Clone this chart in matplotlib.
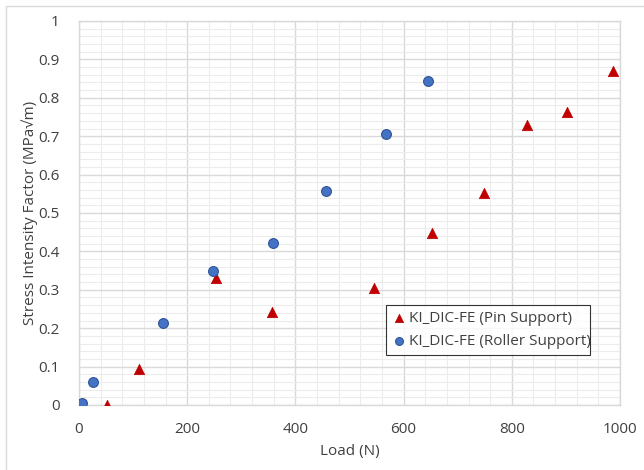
import matplotlib
matplotlib.use("Agg")
import matplotlib.pyplot as plt
from matplotlib.ticker import MultipleLocator
from matplotlib.patches import Rectangle

plt.rcParams["font.family"] = ["Open Sans", "DejaVu Sans"]

# ---- data -------------------------------------------------------------------
pin_load = [52, 110, 254, 356, 545, 652, 748, 828, 902, 987]
pin_k    = [0.0, 0.093, 0.332, 0.241, 0.305, 0.449, 0.553, 0.730, 0.762, 0.870]

roller_load = [5, 25, 155, 248, 358, 457, 568, 645]
roller_k    = [0.005, 0.060, 0.213, 0.348, 0.422, 0.557, 0.705, 0.845]

INK = "#404040"
GRID_MAJ = "#d9d9d9"
GRID_MIN = "#ececec"

fig = plt.figure(figsize=(6.44, 4.70), dpi=100)
fig.patch.set_facecolor("white")
ax = fig.add_axes([79 / 644, 1 - 405 / 470, (620 - 79) / 644, (405 - 21) / 470])

# outer chart-area frame
fig.add_artist(Rectangle((6 / 644, -0.02), 1.02, 1 - 6 / 470 + 0.02,
                         transform=fig.transFigure, fill=False,
                         edgecolor="#d9d9d9", lw=1.0))

ax.scatter(pin_load, pin_k, marker="^", s=56, color="#c00000",
           edgecolor="#c00000", linewidth=0.5, zorder=3,
           label="KI_DIC-FE (Pin Support)")
ax.scatter(roller_load, roller_k, marker="o", s=50, color="#4472c4",
           edgecolor="#2f5597", linewidth=0.8, zorder=3,
           label="KI_DIC-FE (Roller Support)")

ax.set_xlim(0, 1000)
ax.set_ylim(0, 1)
ax.xaxis.set_major_locator(MultipleLocator(200))
ax.xaxis.set_minor_locator(MultipleLocator(40))
ax.yaxis.set_major_locator(MultipleLocator(0.1))
ax.yaxis.set_minor_locator(MultipleLocator(0.02))
ax.set_yticks([i / 10 for i in range(11)])
ax.set_yticklabels(["0"] + [f"{i / 10:g}" for i in range(1, 10)] + ["1"])

ax.grid(which="major", color=GRID_MAJ, lw=1.0, zorder=0)
ax.grid(which="minor", color=GRID_MIN, lw=0.8, zorder=0)
ax.set_axisbelow(True)
ax.tick_params(which="both", length=0, labelsize=11, colors=INK)
ax.tick_params(axis="x", pad=12)
ax.tick_params(axis="y", pad=14)

for s in ax.spines.values():
    s.set_color(GRID_MAJ)
    s.set_linewidth(1.0)

ax.set_xlabel("Load (N)", fontsize=11, color=INK, labelpad=5)
ax.set_ylabel("Stress Intensity Factor (MPa\u221am)", fontsize=11, color=INK,
              labelpad=0)

leg = ax.legend(loc="lower left", bbox_to_anchor=(0.567, 0.13, 0.377, 0.14),
                mode="expand", fontsize=11, frameon=True, fancybox=False,
                handletextpad=0.1, handlelength=1.0, borderpad=0.4,
                labelspacing=0.5, borderaxespad=0, markerscale=0.8)
leg.get_frame().set_edgecolor("black")
leg.get_frame().set_linewidth(0.8)
for t in leg.get_texts():
    t.set_color(INK)

fig.savefig("out.png", dpi=100, facecolor="white")
